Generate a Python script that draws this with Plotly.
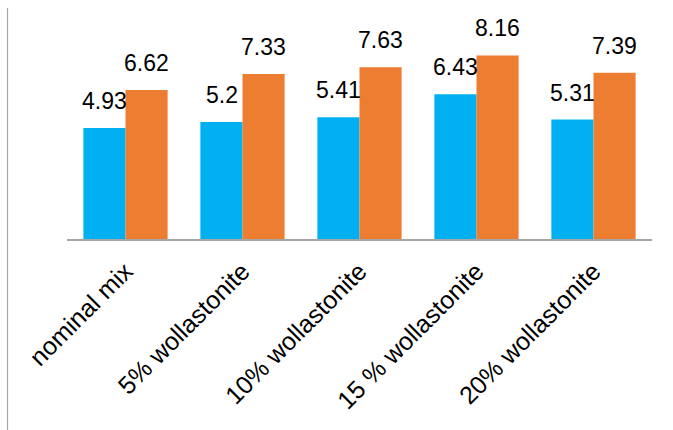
import plotly.graph_objects as go

categories = ["nominal mix", "5% wollastonite", "10% wollastonite", "15 % wollastonite", "20% wollastonite"]
series_a = [4.93, 5.2, 5.41, 6.43, 5.31]
series_b = [6.62, 7.33, 7.63, 8.16, 7.39]

blue = "#00B0F0"
orange = "#ED7D31"
font_family = "Liberation Sans, Arial, sans-serif"

fig = go.Figure()
fig.add_trace(go.Bar(x=categories, y=series_a, marker=dict(color=blue, line=dict(width=0)), name="A"))
fig.add_trace(go.Bar(x=categories, y=series_b, marker=dict(color=orange, line=dict(width=0)), name="B"))

annotations = []
for cat, a, b in zip(categories, series_a, series_b):
    for val, shift in ((a, -21), (b, 21)):
        annotations.append(dict(
            x=cat, y=val, xref="x", yref="y", text=f"{val:g}", showarrow=False,
            xshift=shift, yanchor="bottom", yshift=12,
            font=dict(family=font_family, size=23, color="#000000"),
        ))

fig.update_layout(
    width=673, height=430,
    margin=dict(l=67, r=21, t=14, b=191),
    paper_bgcolor="white", plot_bgcolor="white",
    barmode="group", bargap=0.28, bargroupgap=0,
    showlegend=False,
    annotations=annotations,
    font=dict(family=font_family, color="#000000"),
    xaxis=dict(
        showline=True, linecolor="#A6A6A6", linewidth=1.5,
        showgrid=False, ticks="", tickangle=-45,
        tickfont=dict(family=font_family, size=25, color="#000000"),
        ticklabelstandoff=6,
    ),
    yaxis=dict(visible=False, range=[0, 10], showgrid=False, zeroline=False),
    shapes=[dict(type="line", xref="paper", yref="paper",
                 x0=(7.5 - 67) / 585, x1=(7.5 - 67) / 585,
                 y0=-191 / 225, y1=(225 + 6) / 225,
                 line=dict(color="#A6A6A6", width=1.2))],
)

fig.write_html("out.html")
